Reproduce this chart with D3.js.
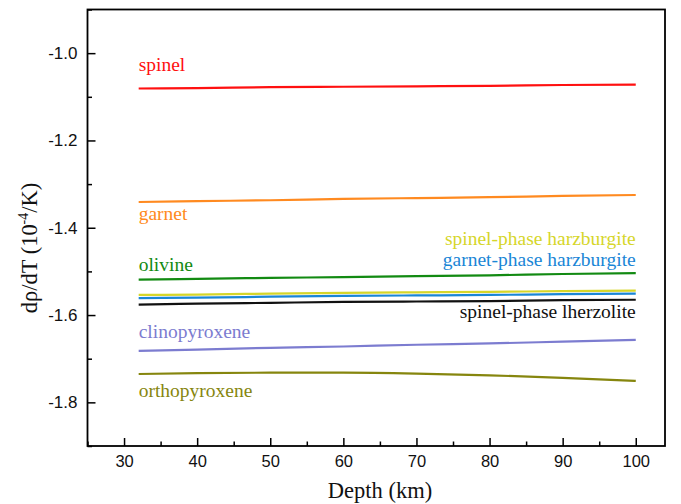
<!DOCTYPE html>
<html>
<head>
<meta charset="utf-8">
<script src="https://cdn.jsdelivr.net/npm/d3@7"></script>
<style>
  html, body { margin: 0; padding: 0; background: #fff; }
  svg { display: block; }
  .tick text { font-family: "Liberation Sans", Arial, sans-serif; }
</style>
</head>
<body>
<svg id="chart" width="681" height="504"></svg>
<script>
// Depths (km) at which each thermal-expansion derivative is sampled
const depths = [32, 40, 50, 60, 70, 80, 90, 100];

// dρ/dT in units of 1e-4 per K
const spinel        = [-1.081, -1.080, -1.078, -1.077, -1.076, -1.075, -1.073, -1.072];
const garnet        = [-1.341, -1.339, -1.337, -1.334, -1.332, -1.330, -1.327, -1.325];
const olivine       = [-1.519, -1.517, -1.515, -1.513, -1.511, -1.509, -1.506, -1.504];
const spHarzburgite = [-1.554, -1.553, -1.551, -1.549, -1.548, -1.547, -1.545, -1.544];
const gtHarzburgite = [-1.561, -1.560, -1.558, -1.556, -1.555, -1.554, -1.552, -1.551];
const spLherzolite  = [-1.576, -1.574, -1.572, -1.570, -1.569, -1.568, -1.566, -1.565];
const clinopyroxene = [-1.682, -1.679, -1.675, -1.672, -1.668, -1.665, -1.661, -1.657];
const orthopyroxene = [-1.735, -1.733, -1.732, -1.732, -1.734, -1.738, -1.744, -1.751];

const seriesNames = ["spinel", "garnet", "olivine", "spinel-phase harzburgite",
  "garnet-phase harzburgite", "spinel-phase lherzolite", "clinopyroxene", "orthopyroxene"];
const seriesValues = [spinel, garnet, olivine, spHarzburgite, gtHarzburgite,
  spLherzolite, clinopyroxene, orthopyroxene];
const seriesColors = ["#ff1010", "#ff8a20", "#128a12", "#d6d62a",
  "#1a86d6", "#111111", "#7c7cd0", "#86860e"];

// Label placement: anchor depth and baseline (px)
const labelSpec = [
  { x: 32,  y: 71,  anchor: "start" },
  { x: 32,  y: 220, anchor: "start" },
  { x: 32,  y: 271, anchor: "start" },
  { x: 100, y: 245, anchor: "end" },
  { x: 100, y: 266, anchor: "end" },
  { x: 100, y: 318, anchor: "end" },
  { x: 32,  y: 338, anchor: "start" },
  { x: 32,  y: 397, anchor: "start" }
];

const xMajor = [30, 40, 50, 60, 70, 80, 90, 100];
const xMinor = [25, 35, 45, 55, 65, 75, 85, 95];
const yMajor = [-1.8, -1.6, -1.4, -1.2, -1.0];
const yMinor = [-1.9, -1.7, -1.5, -1.3, -1.1, -0.9];

const margin = { left: 87.5, right: 665, top: 9.5, bottom: 446 };

const svg = d3.select("#chart");

const x = d3.scaleLinear().domain([25, 104]).range([margin.left, margin.right]);
const y = d3.scaleLinear().domain([-1.9, -0.9]).range([margin.bottom, margin.top]);

// Frame
svg.append("rect")
  .attr("x", margin.left).attr("y", margin.top)
  .attr("width", margin.right - margin.left)
  .attr("height", margin.bottom - margin.top)
  .attr("fill", "none").attr("stroke", "#000").attr("stroke-width", 1.8);

// Bottom axis, ticks pointing inward
const xAxis = svg.append("g").attr("transform", `translate(0,${margin.bottom})`)
  .call(d3.axisBottom(x).tickValues(xMajor).tickSizeInner(-8).tickSizeOuter(0)
    .tickPadding(9).tickFormat(d => String(d)));
xAxis.select(".domain").remove();
xAxis.selectAll(".tick line").attr("stroke-width", 1.5);
xAxis.selectAll(".tick text").attr("font-size", 16.5).attr("fill", "#111");

const xMinorG = svg.append("g").attr("transform", `translate(0,${margin.bottom})`)
  .call(d3.axisBottom(x).tickValues(xMinor).tickSizeInner(-4.5).tickSizeOuter(0).tickFormat(""));
xMinorG.select(".domain").remove();
xMinorG.selectAll(".tick line").attr("stroke-width", 1.5);

// Left axis, ticks pointing inward
const yAxis = svg.append("g").attr("transform", `translate(${margin.left},0)`)
  .call(d3.axisLeft(y).tickValues(yMajor).tickSizeInner(-8).tickSizeOuter(0)
    .tickPadding(10).tickFormat(d => d.toFixed(1)));
yAxis.select(".domain").remove();
yAxis.selectAll(".tick line").attr("stroke-width", 1.5);
yAxis.selectAll(".tick text").attr("font-size", 17).attr("fill", "#111");

const yMinorG = svg.append("g").attr("transform", `translate(${margin.left},0)`)
  .call(d3.axisLeft(y).tickValues(yMinor).tickSizeInner(-4.5).tickSizeOuter(0).tickFormat(""));
yMinorG.select(".domain").remove();
yMinorG.selectAll(".tick line").attr("stroke-width", 1.5);

// Curves
const line = d3.line()
  .x((d, i) => x(depths[i]))
  .y(d => y(d))
  .curve(d3.curveMonotoneX);

svg.append("g").selectAll("path")
  .data(seriesValues)
  .join("path")
  .attr("d", d => line(d))
  .attr("fill", "none")
  .attr("stroke", (d, i) => seriesColors[i])
  .attr("stroke-width", 2.2);

// Series labels
svg.append("g").selectAll("text")
  .data(seriesNames)
  .join("text")
  .attr("x", (d, i) => x(labelSpec[i].x))
  .attr("y", (d, i) => labelSpec[i].y)
  .attr("text-anchor", (d, i) => labelSpec[i].anchor)
  .attr("fill", (d, i) => seriesColors[i])
  .attr("font-family", "'Liberation Serif', 'Times New Roman', serif")
  .attr("font-size", 19.5)
  .text(d => d);

// Axis titles
svg.append("text")
  .attr("x", 380)
  .attr("y", 498)
  .attr("text-anchor", "middle")
  .attr("font-family", "'Liberation Serif', 'Times New Roman', serif")
  .attr("font-size", 22.5)
  .attr("fill", "#111")
  .text("Depth (km)");

const yTitle = svg.append("text")
  .attr("transform", "translate(37,248) rotate(-90)")
  .attr("text-anchor", "middle")
  .attr("font-family", "'Liberation Serif', 'Times New Roman', serif")
  .attr("font-size", 22.5)
  .attr("fill", "#111");
yTitle.append("tspan").text("dρ/dT (10");
yTitle.append("tspan").attr("font-size", 14).attr("dy", -9).text("-4");
yTitle.append("tspan").attr("dy", 9).text("/K)");
</script>
</body>
</html>
